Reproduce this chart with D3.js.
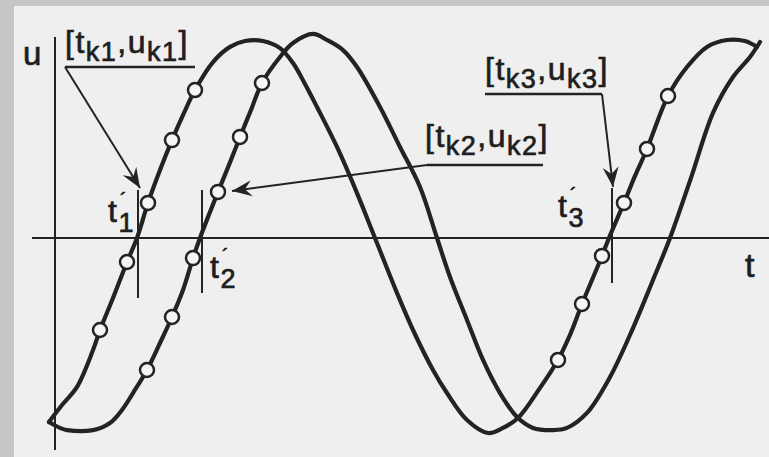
<!DOCTYPE html>
<html>
<head>
<meta charset="utf-8">
<script src="https://cdn.jsdelivr.net/npm/d3@7"></script>
<style>
  html, body { margin: 0; padding: 0; background: #c6c6c6; }
  svg { display: block; }
  text { font-family: "Liberation Sans", Arial, Helvetica, sans-serif; fill: #1e1e1e;
         stroke: #1e1e1e; stroke-width: 0.7px; }
</style>
</head>
<body>
<svg id="chart" width="769" height="457"></svg>
<script>
// ---- trace 1 (leading): time and voltage samples
const wave1T = [-0.12, 0.14, 0.44, 0.76, 0.90, 1.16, 1.44, 1.64, 1.86, 2.10, 2.34, 2.58, 2.80,
  3.16, 3.50, 3.80, 4.16, 4.50, 4.76, 5.00, 5.24, 5.64, 6.04, 6.40, 6.84, 7.16, 7.56, 7.84,
  8.24, 8.66, 8.96, 9.26, 9.70, 10.06, 10.30, 10.54, 10.94, 11.08, 11.38, 11.60, 11.84,
  12.26, 12.64, 13.04, 13.44, 13.80, 14.04];
const wave1U = [-0.934, -0.848, -0.756, -0.569, -0.467, -0.305, -0.122, 0, 0.178, 0.345, 0.497,
  0.635, 0.751, 0.893, 0.970, 1.000, 1.000, 0.964, 0.888, 0.782, 0.665, 0.462, 0.228, 0,
  -0.279, -0.467, -0.670, -0.787, -0.924, -0.990, -0.964, -0.914, -0.761, -0.619, -0.492,
  -0.335, -0.091, 0, 0.178, 0.315, 0.452, 0.721, 0.868, 0.970, 1.005, 1.000, 0.970];

// ---- trace 2 (lagging): time and voltage samples
const wave2T = [-0.12, 0.10, 0.24, 0.76, 1.10, 1.34, 1.56, 1.84, 2.10, 2.34, 2.56, 2.76, 2.90,
  3.26, 3.48, 3.70, 3.92, 4.14, 4.50, 4.76, 5.16, 5.44, 5.76, 6.04, 6.50, 6.90, 7.30, 7.64,
  7.90, 8.24, 8.56, 8.90, 9.24, 9.56, 9.96, 10.24, 10.64, 11.10, 11.56, 11.96, 12.30, 12.72,
  13.16, 13.56, 13.90, 14.10];
const wave2U = [-0.934, -0.964, -0.975, -0.975, -0.939, -0.873, -0.787, -0.670, -0.533, -0.401,
  -0.264, -0.102, 0, 0.234, 0.371, 0.513, 0.650, 0.787, 0.919, 0.990, 1.036, 1.005, 0.954,
  0.868, 0.665, 0.462, 0.259, 0, -0.198, -0.416, -0.619, -0.787, -0.909, -0.964, -0.975,
  -0.964, -0.888, -0.706, -0.457, -0.213, 0, 0.305, 0.635, 0.817, 0.919, 0.995];

// ---- sampled points [t_k, u_k] marked on the traces
const samples1T = [0.90, 1.44, 1.86, 2.34, 2.80, 10.06, 10.54, 10.94, 11.38, 11.84, 12.26];
const samples1U = [-0.467, -0.122, 0.178, 0.497, 0.751, -0.619, -0.335, -0.091, 0.178, 0.452, 0.721];
const samples2T = [1.84, 2.34, 2.76, 3.26, 3.70, 4.14];
const samples2U = [-0.670, -0.401, -0.102, 0.234, 0.513, 0.787];

// ---- zero-crossing instants t'_1, t'_2, t'_3
const crossingT = [1.66, 2.94, 11.14];
const crossingSub = ["1", "2", "3"];

// ---- labels of the sampled pairs
const pairSub = ["k1", "k2", "k3"];

const svg = d3.select("#chart");
const W = 769, H = 457;

// scales: time to x, voltage to y
const x = d3.scaleLinear().domain([0, 14]).range([55, 755]);
const y = d3.scaleLinear().domain([-1, 1]).range([435, 41]);

// paper
svg.append("rect").attr("x", 14).attr("y", 6).attr("width", W - 14).attr("height", H - 6)
  .attr("fill", "#efefef");

const ink = "#232323";

// axes
svg.append("line")
  .attr("x1", x(0)).attr("x2", x(0))
  .attr("y1", y(1.02)).attr("y2", y(-1.076))
  .attr("stroke", ink).attr("stroke-width", 2);
svg.append("line")
  .attr("x1", x(-0.46)).attr("x2", W)
  .attr("y1", y(0)).attr("y2", y(0))
  .attr("stroke", ink).attr("stroke-width", 2);

svg.append("text").attr("x", x(-0.64)).attr("y", y(0.878))
  .attr("font-size", 33).text("u");
svg.append("text").attr("x", x(13.8)).attr("y", y(-0.198))
  .attr("font-size", 34).text("t");

// traces
const line = d3.line()
  .x(d => x(d[0])).y(d => y(d[1]))
  .curve(d3.curveCatmullRom.alpha(0.5));

const traces = [
  d3.zip(wave1T, wave1U),
  d3.zip(wave2T, wave2U)
];
svg.append("g").selectAll("path").data(traces).join("path")
  .attr("d", line)
  .attr("fill", "none").attr("stroke", ink)
  .attr("stroke-width", 4.2).attr("stroke-linejoin", "round").attr("stroke-linecap", "round");

// zero-crossing tick lines
const tickSpan = [[0.244, -0.305], [0.244, -0.279], [0.254, -0.228]];
svg.append("g").selectAll("line").data(crossingT).join("line")
  .attr("x1", d => x(d)).attr("x2", d => x(d))
  .attr("y1", (d, i) => y(tickSpan[i][0])).attr("y2", (d, i) => y(tickSpan[i][1]))
  .attr("stroke", ink).attr("stroke-width", 2);

// sampled points
const pts = d3.zip(samples1T, samples1U).concat(d3.zip(samples2T, samples2U));
svg.append("g").selectAll("circle").data(pts).join("circle")
  .attr("cx", d => x(d[0])).attr("cy", d => y(d[1])).attr("r", 7)
  .attr("fill", "#f5f5f5").attr("stroke", ink).attr("stroke-width", 2.5);

// t' labels placed beside each crossing: t, accent mark, subscript in one text
const crossLabelAt = [[1.06, 0.081], [3.10, -0.203], [10.06, 0.107]];
crossingT.forEach((c, i) => {
  const [lt, lu] = crossLabelAt[i];
  const t = svg.append("text").attr("x", x(lt)).attr("y", y(lu)).attr("font-size", 32);
  t.append("tspan").text("t");
  t.append("tspan").attr("dx", 3).attr("dy", -15).attr("font-size", 20).text("\u00B4");
  t.append("tspan").attr("dx", -8).attr("dy", 25).attr("font-size", 27).text(crossingSub[i]);
});

// arrowhead
svg.append("defs").append("marker")
  .attr("id", "head").attr("viewBox", "-20 -9 22 18")
  .attr("refX", 0).attr("refY", 0)
  .attr("markerWidth", 22).attr("markerHeight", 18)
  .attr("markerUnits", "userSpaceOnUse").attr("orient", "auto")
  .append("path").attr("d", "M0,0 L-20,-8 L-13,0 L-20,8 Z").attr("fill", ink);

// [t_k, u_k] labels: text start, underline span and arrow target
const pairLayout = [
  { text: [0.20, 0.939], under: [0.20, 2.80, 0.868], from: 0, to: [1.70, 0.254] },
  { text: [7.40, 0.462], under: [7.44, 9.76, 0.371], from: 0, to: [3.54, 0.239] },
  { text: [8.60, 0.802], under: [8.60, 10.94, 0.731], from: 1, to: [11.16, 0.259] }
];
pairLayout.forEach((p, i) => {
  const t = svg.append("text").attr("x", x(p.text[0])).attr("y", y(p.text[1]))
    .attr("font-size", 32).attr("letter-spacing", 1.5);
  t.append("tspan").text("[t");
  t.append("tspan").attr("font-size", 27).attr("dy", 8).text(pairSub[i]);
  t.append("tspan").attr("dy", -8).text(",u");
  t.append("tspan").attr("font-size", 27).attr("dy", 8).text(pairSub[i]);
  t.append("tspan").attr("dy", -8).text("]");

  const [u0, u1, uu] = p.under;
  svg.append("line").attr("x1", x(u0)).attr("x2", x(u1)).attr("y1", y(uu)).attr("y2", y(uu))
    .attr("stroke", ink).attr("stroke-width", 2.5);
  const sx = p.from === 0 ? x(u0) : x(u1);
  svg.append("line").attr("x1", sx).attr("y1", y(uu))
    .attr("x2", x(p.to[0])).attr("y2", y(p.to[1]))
    .attr("stroke", ink).attr("stroke-width", 2).attr("marker-end", "url(#head)");
});
</script>
</body>
</html>
